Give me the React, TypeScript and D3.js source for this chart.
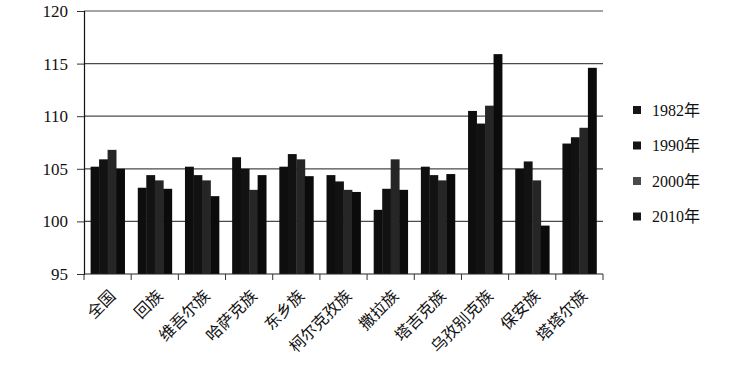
import React, { useEffect, useRef } from 'react';
import * as d3 from 'd3';

const groups = ['全国', '回族', '维吾尔族', '哈萨克族', '东乡族', '柯尔克孜族', '撒拉族', '塔吉克族', '乌孜别克族', '保安族', '塔塔尔族'];
const years = ['1982年', '1990年', '2000年', '2010年'];
const v1982 = [105.2, 103.2, 105.2, 106.1, 105.2, 104.4, 101.1, 105.2, 110.5, 105.0, 107.4];
const v1990 = [105.9, 104.4, 104.4, 105.0, 106.4, 103.8, 103.1, 104.4, 109.3, 105.7, 108.0];
const v2000 = [106.8, 103.9, 103.9, 103.0, 105.9, 103.0, 105.9, 103.9, 111.0, 103.9, 108.9];
const v2010 = [105.0, 103.1, 102.4, 104.4, 104.3, 102.8, 103.0, 104.5, 115.9, 99.6, 114.6];
const yTicks = [95, 100, 105, 110, 115, 120];

const colors = ['#0e0e0e', '#121212', '#262626', '#0b0b0b'];
const legendColors = ['#151515', '#151515', '#4a4a4a', '#151515'];

const App: React.FC = () => {
    const ref = useRef<SVGSVGElement>(null);

    useEffect(() => {
        const svg = d3.select(ref.current);
        svg.selectAll('*').remove();

        const series = [v1982, v1990, v2000, v2010];
        const left = 84, right = 603, top = 11, bottom = 274;

        const x = d3.scaleBand<string>()
            .domain(groups)
            .range([left, right])
            .paddingInner(0.28)
            .paddingOuter(0.14);
        const xSub = d3.scaleBand<string>()
            .domain(years)
            .range([0, x.bandwidth()]);
        const y = d3.scaleLinear().domain([95, 120]).range([bottom, top]);

        const serif = "'Liberation Serif', 'DejaVu Serif', 'Noto Sans CJK SC', serif";

        // gridlines
        svg.append('g')
            .selectAll('line')
            .data(yTicks.slice(1))
            .enter()
            .append('line')
            .attr('x1', left)
            .attr('x2', right)
            .attr('y1', d => y(d))
            .attr('y2', d => y(d))
            .attr('stroke', '#4a4a4a')
            .attr('stroke-width', 1.2);

        // bars
        groups.forEach((g, gi) => {
            svg.append('g')
                .selectAll('rect')
                .data(years)
                .enter()
                .append('rect')
                .attr('x', yr => (x(g) ?? 0) + (xSub(yr) ?? 0))
                .attr('width', xSub.bandwidth() + 0.4)
                .attr('y', (_, i) => y(Math.max(series[i][gi], 95)))
                .attr('height', (_, i) => bottom - y(Math.max(series[i][gi], 95)))
                .attr('fill', (_, i) => colors[i]);
        });

        // y axis
        const yAxis = svg.append('g')
            .attr('transform', `translate(${left},0)`)
            .call(d3.axisLeft(y).tickValues(yTicks).tickSize(7).tickPadding(9).tickFormat(d3.format('d')));
        yAxis.select('.domain').attr('stroke', '#111').attr('stroke-width', 1.2);
        yAxis.selectAll('.tick line').attr('stroke', '#333');
        yAxis.selectAll('text')
            .attr('font-family', serif)
            .attr('font-size', 17)
            .attr('fill', '#111');

        // x axis
        svg.append('line')
            .attr('x1', left).attr('x2', right)
            .attr('y1', bottom).attr('y2', bottom)
            .attr('stroke', '#222').attr('stroke-width', 1.2);
        const step = x.step();
        svg.append('g')
            .selectAll('line')
            .data(d3.range(groups.length + 1))
            .enter()
            .append('line')
            .attr('x1', i => left + i * step)
            .attr('x2', i => left + i * step)
            .attr('y1', bottom)
            .attr('y2', bottom + 6)
            .attr('stroke', '#333');

        svg.append('g')
            .selectAll('text')
            .data(groups)
            .enter()
            .append('text')
            .attr('transform', d => `translate(${(x(d) ?? 0) + x.bandwidth() / 2 + 5},${bottom + 19}) rotate(-45)`)
            .attr('text-anchor', 'end')
            .attr('dy', '0.35em')
            .attr('font-family', "'Noto Sans CJK SC', serif")
            .attr('font-size', 16)
            .attr('fill', '#111')
            .text(d => d);

        // legend
        const legend = svg.append('g').attr('transform', 'translate(633,110)');
        legend.selectAll('rect')
            .data(years)
            .enter()
            .append('rect')
            .attr('x', 0)
            .attr('y', (_, i) => i * 35.5 - 4)
            .attr('width', 8)
            .attr('height', 8)
            .attr('fill', (_, i) => legendColors[i]);
        legend.selectAll('text')
            .data(years)
            .enter()
            .append('text')
            .attr('x', 19)
            .attr('y', (_, i) => i * 35.5)
            .attr('dy', '0.35em')
            .attr('font-family', serif)
            .attr('font-size', 16)
            .attr('fill', '#111')
            .text(d => d);
    }, []);

    return (
        <svg
            ref={ref}
            width={744}
            height={370}
            style={{ position: 'absolute', left: 0, top: 0, background: '#fff' }}
        />
    );
};

export default App;
